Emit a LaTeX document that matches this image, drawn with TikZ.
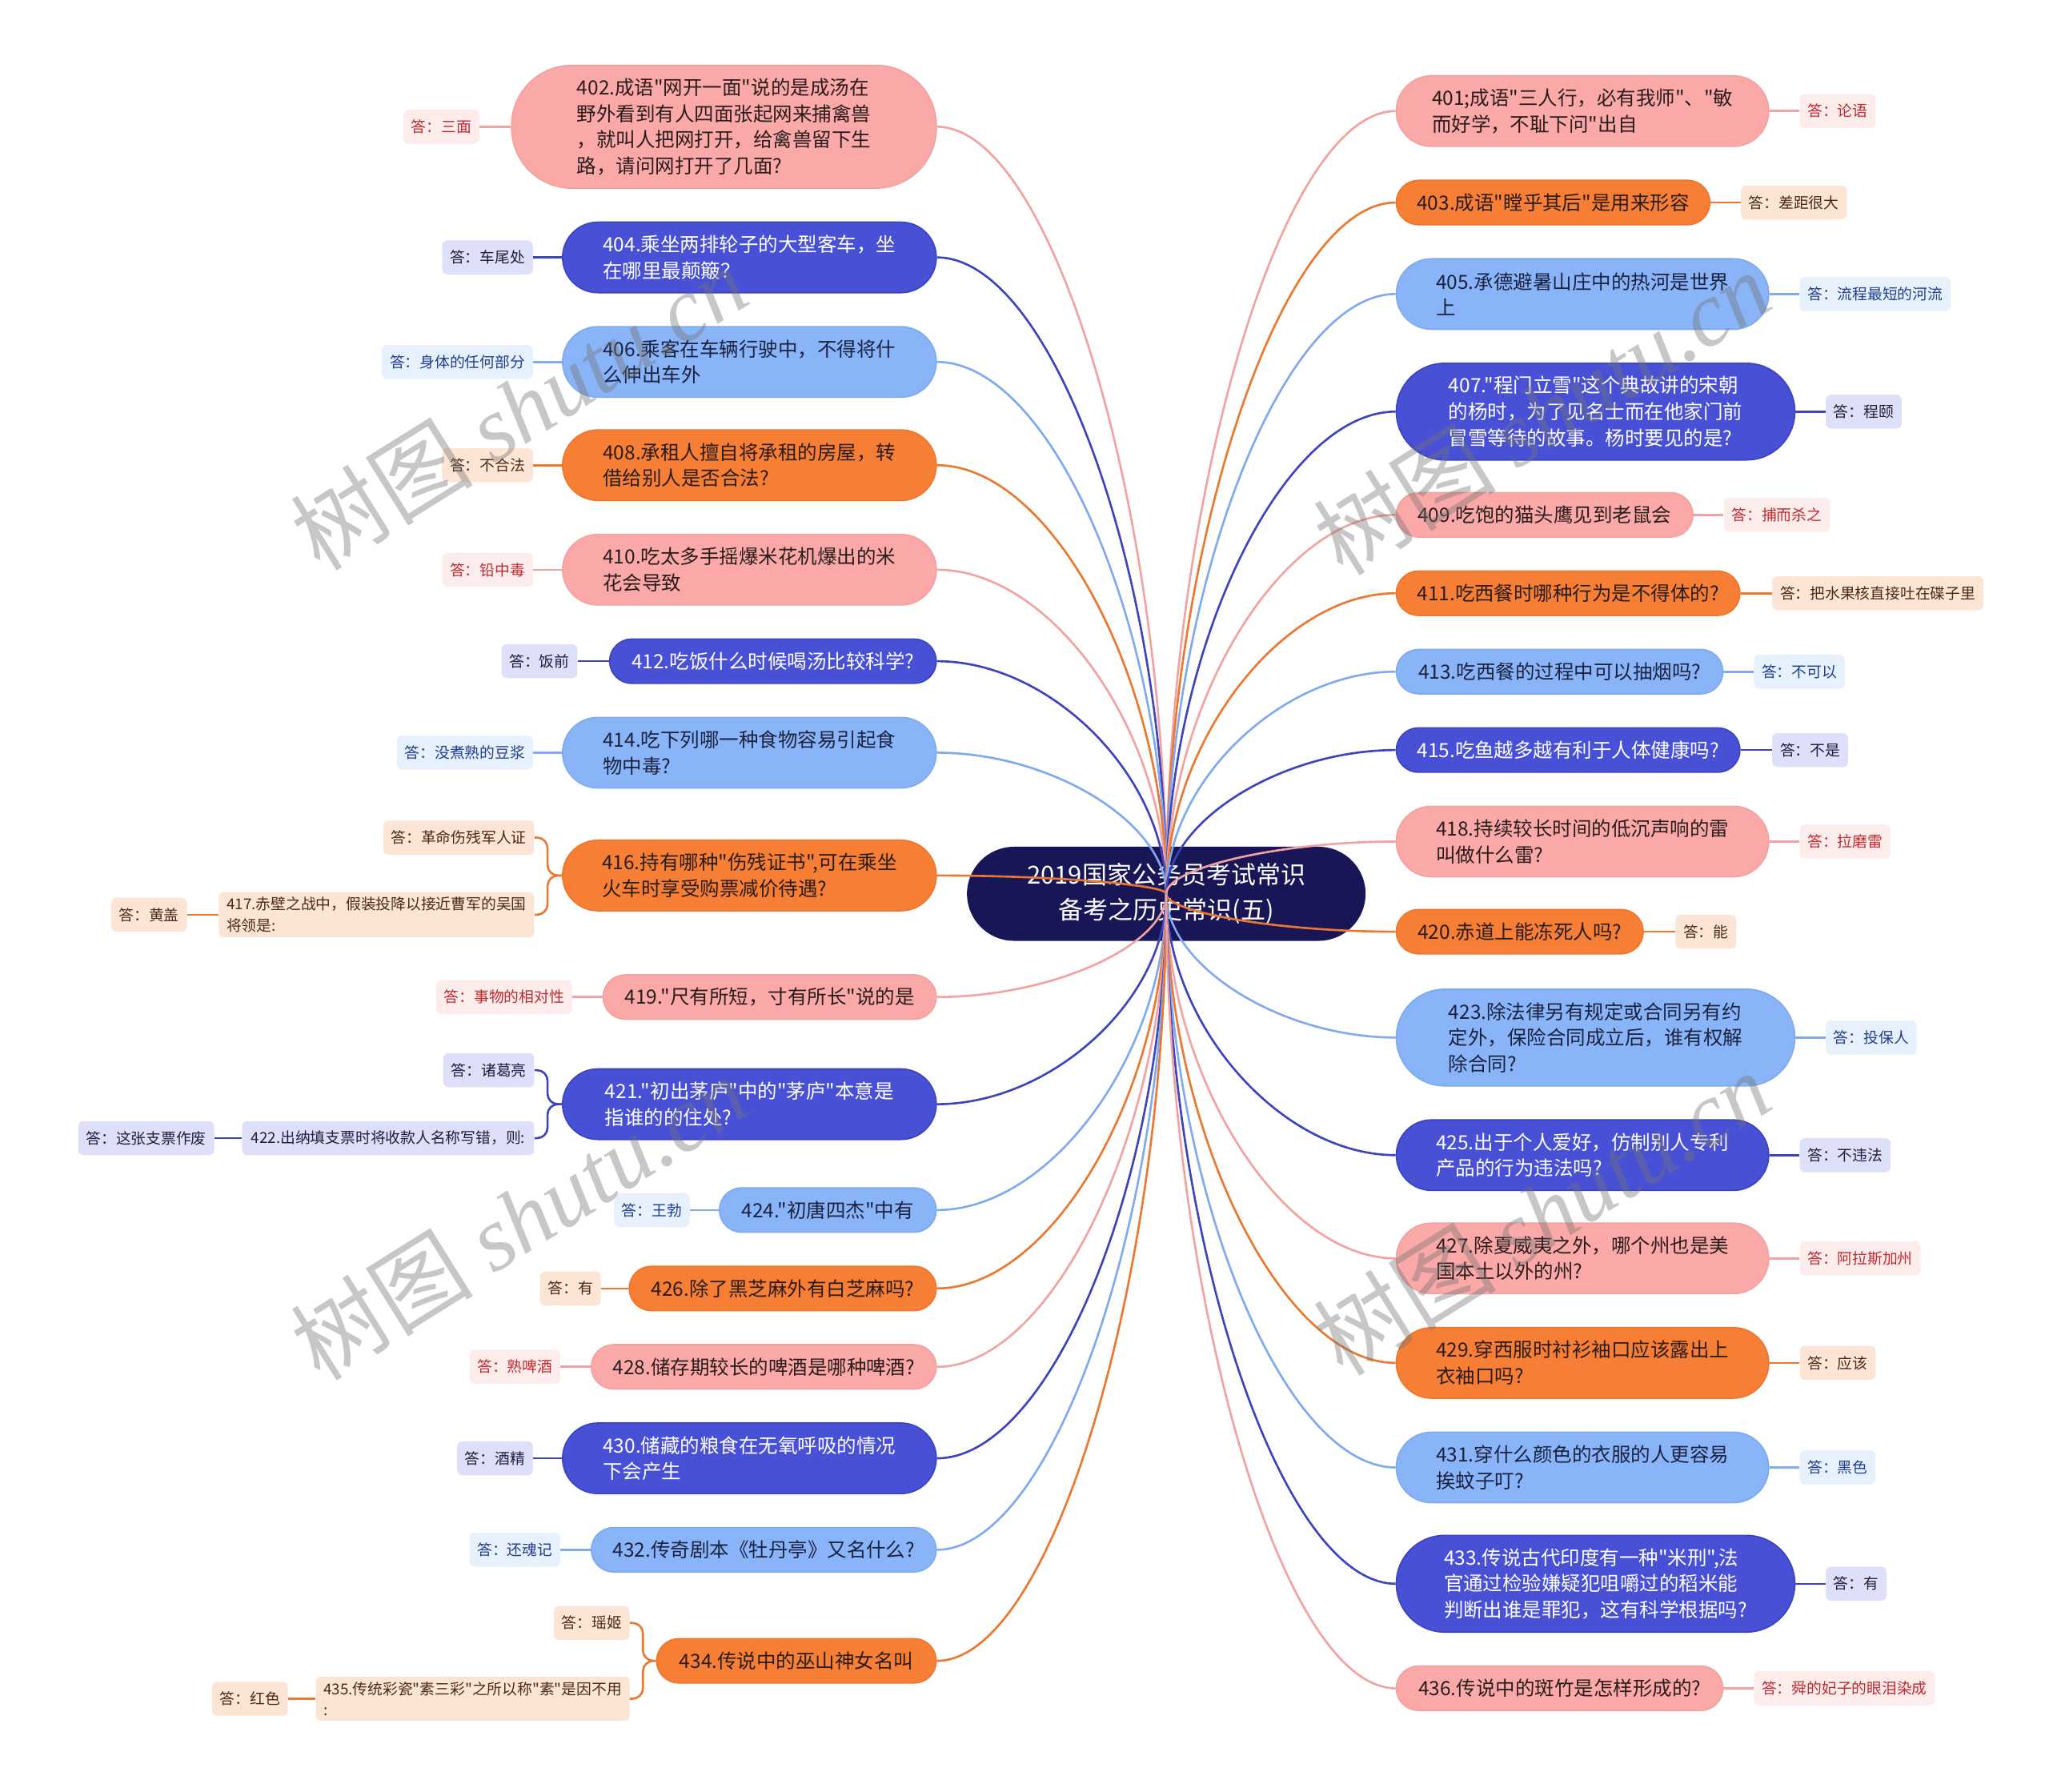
\documentclass[tikz,border=0pt]{standalone}
\usepackage{fontspec}
\setmainfont{Noto Sans CJK SC}[Ligatures=TeXOff]
\newfontfamily\wmserif{Liberation Serif}
\usetikzlibrary{calc}

\definecolor{cpink}{HTML}{FAA9A8}
\definecolor{corange}{HTML}{F77F35}
\definecolor{cblue}{HTML}{4850D6}
\definecolor{clight}{HTML}{8AB4F8}
\definecolor{croot}{HTML}{181656}
\definecolor{lpinkc}{HTML}{F2A2A1}
\definecolor{lorangec}{HTML}{EC772E}
\definecolor{lbluec}{HTML}{3C43BE}
\definecolor{llightc}{HTML}{7FAAEE}
\definecolor{tdark}{HTML}{2A1C1C}
\definecolor{tlight}{HTML}{1A2240}
\definecolor{apinkf}{HTML}{FDECEC}
\definecolor{apinkt}{HTML}{BE2A2E}
\definecolor{aorangef}{HTML}{FDE5D6}
\definecolor{aoranget}{HTML}{4A2A18}
\definecolor{abluef}{HTML}{DEDFF8}
\definecolor{abluet}{HTML}{1E1E40}
\definecolor{alightf}{HTML}{E7F0FD}
\definecolor{alightt}{HTML}{1F3F8C}

\newcommand\qfnt{\fontsize{15}{20}\selectfont}
\newcommand\afnt{\fontsize{11.5}{16}\selectfont}
\newcommand\rootfnt{\fontsize{19}{27}\selectfont}

\tikzset{
  qq/.style={inner sep=0pt, align=left, font=\qfnt, line width=1},
  qpink/.style={qq, fill=cpink, draw=lpinkc, text=tdark},
  qorange/.style={qq, fill=corange, draw=lorangec, text=tdark},
  qblue/.style={qq, fill=cblue, draw=lbluec, text=white},
  qlight/.style={qq, fill=clight, draw=llightc, text=tlight},
  h34/.style={minimum height=34, rounded corners=17},
  h54/.style={minimum height=54, rounded corners=27},
  h74/.style={minimum height=74, rounded corners=37},
  h94/.style={minimum height=94, rounded corners=46},
  ans/.style={inner xsep=6, inner ysep=0, minimum height=26, rounded corners=4, font=\afnt, align=left},
  apink/.style={ans, fill=apinkf, text=apinkt},
  aorange/.style={ans, fill=aorangef, text=aoranget},
  ablue/.style={ans, fill=abluef, text=abluet},
  alight/.style={ans, fill=alightf, text=alightt},
  subbox/.style={inner xsep=6, inner ysep=4, minimum height=26, rounded corners=4, font=\afnt, align=left},
  subor/.style={subbox, fill=aorangef, text=aoranget},
  subbl/.style={subbox, fill=abluef, text=abluet},
  lpink/.style={draw=lpinkc, line width=1.6},
  lorange/.style={draw=lorangec, line width=1.6},
  lblue/.style={draw=lbluec, line width=1.6},
  llight/.style={draw=llightc, line width=1.6},
  wm/.style={text=black!55, opacity=0.4, font=\fontsize{70}{70}\selectfont, rotate=32},
}

\newcommand\mmconn[3]{%
  \draw[#1] let \p1=(root.center), \p2=(#2.#3) in
    (\p1) .. controls (\x1,{\y1+0.5*(\y2-\y1)}) and ({\x2+0.5*(\x1-\x2)},\y2) .. (\p2);}

\begin{document}
\begin{tikzpicture}[x=1pt,y=-1pt]
\fill[white] (0,0) rectangle (1568,1371);
\useasboundingbox (0,0) rectangle (1568,1371);

% root
\node[fill=croot, text=white, font=\rootfnt, align=center, minimum width=305, minimum height=72, rounded corners=36, inner sep=0pt] (root) at (892.5,684) {2019国家公务员考试常识\\备考之历史常识(五)};

% ---------- left questions ----------
\node[qpink,h94,minimum width=325,anchor=east] (q402) at (717,97) {402.成语"网开一面"说的是成汤在\\野外看到有人四面张起网来捕禽兽\\，就叫人把网打开，给禽兽留下生\\路，请问网打开了几面?};
\node[qblue,h54,minimum width=286,anchor=east] (q404) at (717,197) {404.乘坐两排轮子的大型客车，坐\\在哪里最颠簸？};
\node[qlight,h54,minimum width=286,anchor=east] (q406) at (717,277) {406.乘客在车辆行驶中，不得将什\\么伸出车外};
\node[qorange,h54,minimum width=286,anchor=east] (q408) at (717,356) {408.承租人擅自将承租的房屋，转\\借给别人是否合法?};
\node[qpink,h54,minimum width=286,anchor=east] (q410) at (717,436) {410.吃太多手摇爆米花机爆出的米\\花会导致};
\node[qblue,h34,minimum width=250,anchor=east] (q412) at (717,506) {412.吃饭什么时候喝汤比较科学?};
\node[qlight,h54,minimum width=286,anchor=east] (q414) at (717,576) {414.吃下列哪一种食物容易引起食\\物中毒?};
\node[qorange,h54,minimum width=286,anchor=east] (q416) at (717,670) {416.持有哪种"伤残证书",可在乘坐\\火车时享受购票减价待遇?};
\node[qpink,h34,minimum width=255,anchor=east] (q419) at (717,763) {419."尺有所短，寸有所长"说的是};
\node[qblue,h54,minimum width=286,anchor=east] (q421) at (717,845) {421."初出茅庐"中的"茅庐"本意是\\指谁的的住处?};
\node[qlight,h34,minimum width=166,anchor=east] (q424) at (717,926) {424."初唐四杰"中有};
\node[qorange,h34,minimum width=235,anchor=east] (q426) at (717,986) {426.除了黑芝麻外有白芝麻吗?};
\node[qpink,h34,minimum width=264,anchor=east] (q428) at (717,1046) {428.储存期较长的啤酒是哪种啤酒?};
\node[qblue,h54,minimum width=286,anchor=east] (q430) at (717,1116) {430.储藏的粮食在无氧呼吸的情况\\下会产生};
\node[qlight,h34,minimum width=264,anchor=east] (q432) at (717,1186) {432.传奇剧本《牡丹亭》又名什么?};
\node[qorange,h34,minimum width=214,anchor=east] (q434) at (717,1271) {434.传说中的巫山神女名叫};

% ---------- right questions ----------
\node[qpink,h54,minimum width=285,anchor=west] (q401) at (1068,85) {401;成语"三人行，必有我师"、"敏\\而好学，不耻下问"出自};
\node[qorange,h34,minimum width=240,anchor=west] (q403) at (1068,155) {403.成语"瞠乎其后"是用来形容};
\node[qlight,h54,minimum width=285,anchor=west] (q405) at (1068,225) {405.承德避暑山庄中的热河是世界\\上};
\node[qblue,h74,minimum width=305,anchor=west] (q407) at (1068,315) {407."程门立雪"这个典故讲的宋朝\\的杨时，为了见名士而在他家门前\\冒雪等待的故事。杨时要见的是?};
\node[qpink,h34,minimum width=227,anchor=west] (q409) at (1068,394) {409.吃饱的猫头鹰见到老鼠会};
\node[qorange,h34,minimum width=263,anchor=west] (q411) at (1068,454) {411.吃西餐时哪种行为是不得体的?};
\node[qlight,h34,minimum width=250,anchor=west] (q413) at (1068,514) {413.吃西餐的过程中可以抽烟吗?};
\node[qblue,h34,minimum width=263,anchor=west] (q415) at (1068,574) {415.吃鱼越多越有利于人体健康吗?};
\node[qpink,h54,minimum width=285,anchor=west] (q418) at (1068,644) {418.持续较长时间的低沉声响的雷\\叫做什么雷?};
\node[qorange,h34,minimum width=189,anchor=west] (q420) at (1068,713) {420.赤道上能冻死人吗?};
\node[qlight,h74,minimum width=305,anchor=west] (q423) at (1068,794) {423.除法律另有规定或合同另有约\\定外，保险合同成立后，谁有权解\\除合同?};
\node[qblue,h54,minimum width=285,anchor=west] (q425) at (1068,884) {425.出于个人爱好，仿制别人专利\\产品的行为违法吗?};
\node[qpink,h54,minimum width=285,anchor=west] (q427) at (1068,963) {427.除夏威夷之外，哪个州也是美\\国本土以外的州?};
\node[qorange,h54,minimum width=285,anchor=west] (q429) at (1068,1043) {429.穿西服时衬衫袖口应该露出上\\衣袖口吗?};
\node[qlight,h54,minimum width=285,anchor=west] (q431) at (1068,1123) {431.穿什么颜色的衣服的人更容易\\挨蚊子叮?};
\node[qblue,h74,minimum width=305,anchor=west] (q433) at (1068,1212) {433.传说古代印度有一种"米刑",法\\官通过检验嫌疑犯咀嚼过的稻米能\\判断出谁是罪犯，这有科学根据吗?};
\node[qpink,h34,minimum width=250,anchor=west] (q436) at (1068,1292) {436.传说中的斑竹是怎样形成的?};

% ---------- left answers ----------
\node[apink,anchor=east] (a402) at ([xshift=-24]q402.west) {答：三面};
\node[ablue,anchor=east] (a404) at ([xshift=-22]q404.west) {答：车尾处};
\node[alight,anchor=east] (a406) at ([xshift=-22]q406.west) {答：身体的任何部分};
\node[aorange,anchor=east] (a408) at ([xshift=-22]q408.west) {答：不合法};
\node[apink,anchor=east] (a410) at ([xshift=-22]q410.west) {答：铅中毒};
\node[ablue,anchor=east] (a412) at ([xshift=-24]q412.west) {答：饭前};
\node[alight,anchor=east] (a414) at ([xshift=-22]q414.west) {答：没煮熟的豆浆};
\node[aorange,anchor=east] (a416) at (409,641) {答：革命伤残军人证};
\node[subor,anchor=east] (s417) at (409,700) {417.赤壁之战中，假装投降以接近曹军的吴国\\将领是:};
\node[aorange,anchor=east] (a417) at ([xshift=-24]s417.west) {答：黄盖};
\node[apink,anchor=east] (a419) at ([xshift=-23]q419.west) {答：事物的相对性};
\node[ablue,anchor=east] (a421) at (409,819) {答：诸葛亮};
\node[subbl,anchor=east,inner xsep=7] (s422) at (409,871) {422.出纳填支票时将收款人名称写错，则:};
\node[ablue,anchor=east] (a422) at ([xshift=-21]s422.west) {答：这张支票作废};
\node[alight,anchor=east] (a424) at ([xshift=-22]q424.west) {答：王勃};
\node[aorange,anchor=east] (a426) at ([xshift=-21]q426.west) {答：有};
\node[apink,anchor=east] (a428) at ([xshift=-23]q428.west) {答：熟啤酒};
\node[ablue,anchor=east] (a430) at ([xshift=-22]q430.west) {答：酒精};
\node[alight,anchor=east] (a432) at ([xshift=-23]q432.west) {答：还魂记};
\node[aorange,anchor=east] (a434) at (482,1242) {答：瑶姬};
\node[subor,anchor=east] (s435) at (482,1300) {435.传统彩瓷"素三彩"之所以称"素"是因不用\\:};
\node[aorange,anchor=east] (a435) at ([xshift=-21]s435.west) {答：红色};

% ---------- right answers ----------
\node[apink,anchor=west] (a401) at ([xshift=23]q401.east) {答：论语};
\node[aorange,anchor=west] (a403) at ([xshift=23]q403.east) {答：差距很大};
\node[alight,anchor=west] (a405) at ([xshift=23]q405.east) {答：流程最短的河流};
\node[ablue,anchor=west] (a407) at ([xshift=23]q407.east) {答：程颐};
\node[apink,anchor=west] (a409) at ([xshift=23]q409.east) {答：捕而杀之};
\node[aorange,anchor=west] (a411) at ([xshift=24]q411.east) {答：把水果核直接吐在碟子里};
\node[alight,anchor=west] (a413) at ([xshift=23]q413.east) {答：不可以};
\node[ablue,anchor=west] (a415) at ([xshift=24]q415.east) {答：不是};
\node[apink,anchor=west] (a418) at ([xshift=23]q418.east) {答：拉磨雷};
\node[aorange,anchor=west] (a420) at ([xshift=24]q420.east) {答：能};
\node[alight,anchor=west] (a423) at ([xshift=23]q423.east) {答：投保人};
\node[ablue,anchor=west] (a425) at ([xshift=23]q425.east) {答：不违法};
\node[apink,anchor=west] (a427) at ([xshift=23]q427.east) {答：阿拉斯加州};
\node[aorange,anchor=west] (a429) at ([xshift=23]q429.east) {答：应该};
\node[alight,anchor=west] (a431) at ([xshift=23]q431.east) {答：黑色};
\node[ablue,anchor=west] (a433) at ([xshift=23]q433.east) {答：有};
\node[apink,anchor=west] (a436) at ([xshift=23]q436.east) {答：舜的妃子的眼泪染成};

% ---------- root connectors ----------
\mmconn{lpink}{q402}{east}
\mmconn{lblue}{q404}{east}
\mmconn{llight}{q406}{east}
\mmconn{lorange}{q408}{east}
\mmconn{lpink}{q410}{east}
\mmconn{lblue}{q412}{east}
\mmconn{llight}{q414}{east}
\mmconn{lorange}{q416}{east}
\mmconn{lpink}{q419}{east}
\mmconn{lblue}{q421}{east}
\mmconn{llight}{q424}{east}
\mmconn{lorange}{q426}{east}
\mmconn{lpink}{q428}{east}
\mmconn{lblue}{q430}{east}
\mmconn{llight}{q432}{east}
\mmconn{lorange}{q434}{east}
\mmconn{lpink}{q401}{west}
\mmconn{lorange}{q403}{west}
\mmconn{llight}{q405}{west}
\mmconn{lblue}{q407}{west}
\mmconn{lpink}{q409}{west}
\mmconn{lorange}{q411}{west}
\mmconn{llight}{q413}{west}
\mmconn{lblue}{q415}{west}
\mmconn{lpink}{q418}{west}
\mmconn{lorange}{q420}{west}
\mmconn{llight}{q423}{west}
\mmconn{lblue}{q425}{west}
\mmconn{lpink}{q427}{west}
\mmconn{lorange}{q429}{west}
\mmconn{llight}{q431}{west}
\mmconn{lblue}{q433}{west}
\mmconn{lpink}{q436}{west}

% ---------- answer connectors ----------
\draw[lpink] (q402.west) -- (a402.east);
\draw[lblue] (q404.west) -- (a404.east);
\draw[llight] (q406.west) -- (a406.east);
\draw[lorange] (q408.west) -- (a408.east);
\draw[lpink] (q410.west) -- (a410.east);
\draw[lblue] (q412.west) -- (a412.east);
\draw[llight] (q414.west) -- (a414.east);
\draw[lorange, rounded corners=8] (q416.west) -- ++(-11,0) |- (a416.east);
\draw[lorange, rounded corners=8] (q416.west) -- ++(-11,0) |- (s417.east);
\draw[lorange] (s417.west) -- (a417.east);
\draw[lpink] (q419.west) -- (a419.east);
\draw[lblue, rounded corners=8] (q421.west) -- ++(-11,0) |- (a421.east);
\draw[lblue, rounded corners=8] (q421.west) -- ++(-11,0) |- (s422.east);
\draw[lblue] (s422.west) -- (a422.east);
\draw[llight] (q424.west) -- (a424.east);
\draw[lorange] (q426.west) -- (a426.east);
\draw[lpink] (q428.west) -- (a428.east);
\draw[lblue] (q430.west) -- (a430.east);
\draw[llight] (q432.west) -- (a432.east);
\draw[lorange, rounded corners=8] (q434.west) -- ++(-10,0) |- (a434.east);
\draw[lorange, rounded corners=8] (q434.west) -- ++(-10,0) |- (s435.east);
\draw[lorange] (s435.west) -- (a435.east);

\draw[lpink] (q401.east) -- (a401.west);
\draw[lorange] (q403.east) -- (a403.west);
\draw[llight] (q405.east) -- (a405.west);
\draw[lblue] (q407.east) -- (a407.west);
\draw[lpink] (q409.east) -- (a409.west);
\draw[lorange] (q411.east) -- (a411.west);
\draw[llight] (q413.east) -- (a413.west);
\draw[lblue] (q415.east) -- (a415.west);
\draw[lpink] (q418.east) -- (a418.west);
\draw[lorange] (q420.east) -- (a420.west);
\draw[llight] (q423.east) -- (a423.west);
\draw[lblue] (q425.east) -- (a425.west);
\draw[lpink] (q427.east) -- (a427.west);
\draw[lorange] (q429.east) -- (a429.west);
\draw[llight] (q431.east) -- (a431.west);
\draw[lblue] (q433.east) -- (a433.west);
\draw[lpink] (q436.east) -- (a436.west);

% ---------- watermarks ----------
\node[wm] (wm1) at (397,312) {树图 {\wmserif\itshape shutu.cn}};
\node[wm] (wm2) at (397,932) {树图 {\wmserif\itshape shutu.cn}};
\node[wm] (wm3) at (1180,316) {树图 {\wmserif\itshape shutu.cn}};
\node[wm] (wm4) at (1180,928) {树图 {\wmserif\itshape shutu.cn}};
\end{tikzpicture}
\end{document}
